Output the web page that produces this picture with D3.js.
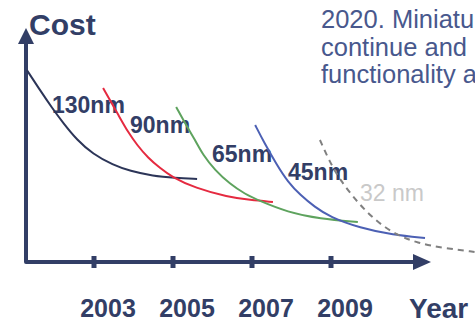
<!DOCTYPE html>
<html>
<head>
<meta charset="utf-8">
<script src="https://cdn.jsdelivr.net/npm/d3@7"></script>
<style>
  html, body { margin: 0; padding: 0; background: #fff; }
  svg { display: block; }
  text { font-family: "Liberation Sans", Arial, sans-serif; }
</style>
</head>
<body>
<svg id="chart" width="475" height="321"></svg>
<script>
// Process generations: label, colour and cost curve (year, relative cost)
const nodes = ["130nm", "90nm", "65nm", "45nm", "32 nm"];

const cost130 = [[2001.30,96],[2001.63,86],[2001.94,77],[2002.22,69.5],[2002.57,61],[2002.97,54],[2003.48,48.5],[2003.91,45.5],[2004.49,43],[2005.05,42],[2005.61,41.5]];
const cost90  = [[2003.23,87],[2003.66,72],[2003.86,65],[2004.09,58.5],[2004.37,52],[2004.67,47],[2004.97,42.5],[2005.56,37],[2006.39,32.5],[2006.95,31],[2007.53,30]];
const cost65  = [[2005.08,77.5],[2005.33,68.5],[2005.56,61],[2005.76,53.5],[2006.06,46],[2006.44,39],[2006.82,34],[2007.20,30.5],[2007.89,25],[2008.72,21.5],[2009.68,20]];
const cost45  = [[2007.08,68.5],[2007.30,60],[2007.63,48.5],[2007.91,40],[2008.22,33.5],[2008.59,27.5],[2008.97,22.5],[2009.73,17],[2010.57,13.5],[2011.38,12]];
const cost32  = [[2008.72,61],[2008.97,50],[2009.23,41],[2009.66,30],[2010.16,20],[2010.67,13.5],[2011.18,9.5],[2011.84,7],[2012.65,5]];

const yearTicks = [2003, 2005, 2007, 2009];

const noteLines = ["2020. Miniatu", "continue and", "functionality a"];

const svg = d3.select("#chart");
const ink = "#323e66";

const x = d3.scaleLinear().domain([2003, 2009]).range([94, 331]);
const y = d3.scaleLinear().domain([0, 100]).range([262, 62]);

// Text block at top right
const note = svg.append("text")
  .attr("fill", "#48588d")
  .attr("font-size", 25.5);
noteLines.forEach((t, i) => {
  note.append("tspan").attr("x", 321).attr("y", 28 + i * 27.5).text(t);
});

// Axis titles
svg.append("text").attr("x", 29).attr("y", 35)
  .attr("font-size", 30).attr("font-weight", "bold").attr("fill", ink).text("Cost");
svg.append("text").attr("x", 409).attr("y", 318)
  .attr("font-size", 28).attr("font-weight", "bold").attr("fill", ink).text("Year");

// Axes with arrowheads
svg.append("path")
  .attr("d", `M26,42 V${y(0)} H414`)
  .attr("fill", "none").attr("stroke", ink).attr("stroke-width", 4)
  .attr("stroke-linejoin", "round");
svg.append("path").attr("d", "M26,28 L18,44 L34,44 Z").attr("fill", ink);
svg.append("path").attr("d", `M431,${y(0)} L413,${y(0) - 8} L413,${y(0) + 8} Z`).attr("fill", ink);

// Year ticks and labels
svg.selectAll("rect.tick").data(yearTicks).join("rect")
  .attr("class", "tick")
  .attr("x", d => x(d) - 2.5).attr("y", y(0) - 6)
  .attr("width", 5).attr("height", 12)
  .attr("fill", ink);
svg.selectAll("text.yr").data(yearTicks).join("text")
  .attr("class", "yr")
  .attr("x", d => x(d) + 14).attr("y", 317)
  .attr("text-anchor", "middle")
  .attr("font-size", 25).attr("font-weight", "bold").attr("fill", ink)
  .text(d => d);

// Curve labels
const labels = [
  { text: nodes[0], x: 52, y: 113, fill: ink, weight: "bold" },
  { text: nodes[1], x: 130, y: 133, fill: ink, weight: "bold" },
  { text: nodes[2], x: 212, y: 162, fill: ink, weight: "bold" },
  { text: nodes[3], x: 288, y: 180, fill: ink, weight: "bold" },
  { text: nodes[4], x: 360, y: 201, fill: "#c9c9c9", weight: "normal" }
];
svg.selectAll("text.lbl").data(labels).join("text")
  .attr("class", "lbl")
  .attr("x", d => d.x).attr("y", d => d.y)
  .attr("font-size", 23).attr("font-weight", d => d.weight)
  .attr("fill", d => d.fill)
  .text(d => d.text);

// Cost curves
const line = d3.line()
  .x(d => x(d[0])).y(d => y(d[1]))
  .curve(d3.curveBasis);

const series = [
  { data: cost130, color: "#2c3558", dash: null },
  { data: cost90,  color: "#e52a40", dash: null },
  { data: cost65,  color: "#5ea35e", dash: null },
  { data: cost45,  color: "#4c60b4", dash: null },
  { data: cost32,  color: "#808080", dash: "6,5" }
];
svg.selectAll("path.curve").data(series).join("path")
  .attr("class", "curve")
  .attr("d", d => line(d.data))
  .attr("fill", "none")
  .attr("stroke", d => d.color)
  .attr("stroke-width", 2)
  .attr("stroke-dasharray", d => d.dash);
</script>
</body>
</html>
